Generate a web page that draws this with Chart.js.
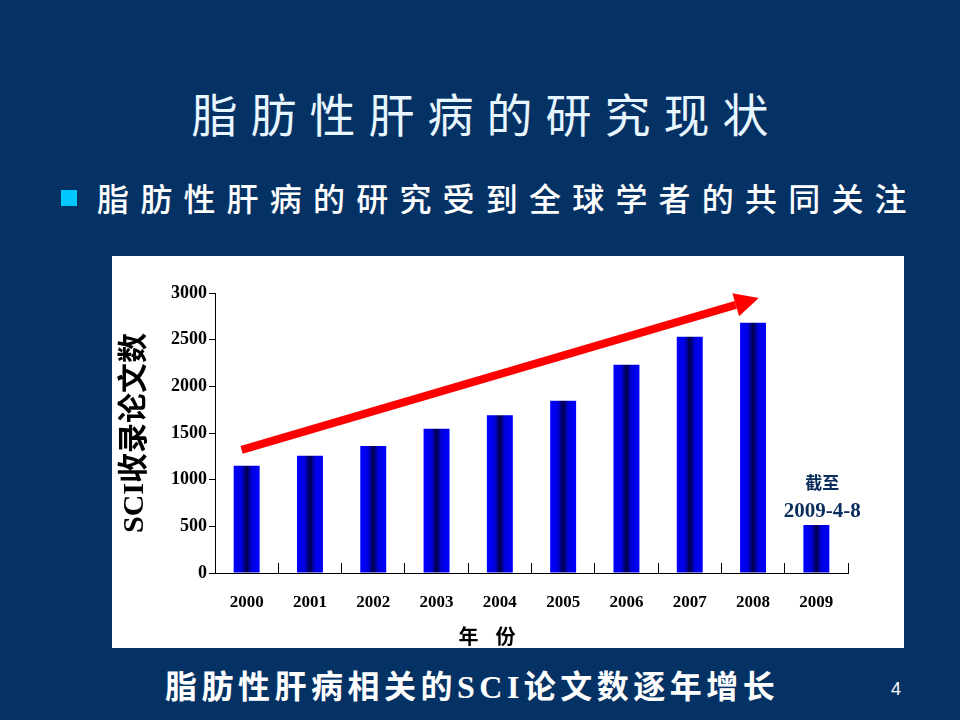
<!DOCTYPE html>
<html>
<head>
<meta charset="utf-8">
<script src="https://cdn.jsdelivr.net/npm/chart.js@4/dist/chart.umd.min.js"></script>
<style>
  html, body { margin: 0; padding: 0; }
  body {
    width: 960px; height: 720px; overflow: hidden; position: relative;
    background: #053265;
    font-family: "Noto Sans CJK SC", sans-serif;
  }
  .title {
    position: absolute; left: 0; width: 960px; top: 80px;
    text-align: center; color: #e8f6ff;
    font-size: 46px; line-height: 64px; letter-spacing: 13px; text-indent: 13px;
  }
  .bullet {
    position: absolute; left: 61px; top: 190px; width: 16px; height: 16px;
    background: #00c8ff;
  }
  .subtitle {
    position: absolute; left: 97px; top: 175px; color: #ffffff;
    font-size: 32px; line-height: 44px; letter-spacing: 11.2px; font-weight: 500;
  }
  .panel {
    position: absolute; left: 112px; top: 256px; width: 792px; height: 392px;
    background: #ffffff;
  }
  .xtitle {
    position: absolute; left: 490px; top: 635px; transform: translate(-50%, -50%);
    color: #000; font-size: 20px; font-weight: 700; letter-spacing: 6px;
    font-family: "Liberation Serif", "Noto Sans CJK SC", serif;
  }
  .caption {
    position: absolute; left: 165px; top: 666px; color: #ffffff;
    font-size: 32px; line-height: 42px; letter-spacing: 4.5px; font-weight: 700;
    font-family: "Liberation Serif", "Noto Sans CJK SC", serif;
  }
  .page {
    position: absolute; left: 891px; top: 679px; color: #ffffff;
    font-size: 18px; font-family: "Liberation Sans", Arial, sans-serif;
  }
</style>
</head>
<body>
<div class="title">脂肪性肝病的研究现状</div>
<div class="bullet"></div>
<div class="subtitle">脂肪性肝病的研究受到全球学者的共同关注</div>
<div class="panel"><canvas id="sciChart" width="792" height="392"></canvas></div>
<div class="xtitle">年 份</div>
<div class="caption">脂肪性肝病相关的SCI论文数逐年增长</div>
<div class="page">4</div>

<script>
// 年份与SCI收录论文数
const years = ['2000', '2001', '2002', '2003', '2004', '2005', '2006', '2007', '2008', '2009'];
const paperCounts = [1150, 1255, 1360, 1545, 1690, 1845, 2230, 2530, 2680, 515];
const yTicks = [0, 500, 1000, 1500, 2000, 2500, 3000];

// 趋势箭头 (类别序号, 数值)
const arrowStart = [-0.08, 1320];
const arrowEnd = [8.09, 2946];

// 2009 年柱上方的说明
const noteLines = ['截至', '2009-4-8'];

const serif = '"Liberation Serif", "Noto Sans CJK SC", serif';

// 柱子横向渐变：两侧亮蓝，中间深蓝
function barGradient(context) {
    const chart = context.chart;
    const xs = chart.scales.x;
    if (!xs || !chart.chartArea) return '#0000ff';
    const step = xs.getPixelForValue(1) - xs.getPixelForValue(0);
    const cx = xs.getPixelForValue(context.dataIndex);
    const half = step * 0.41 / 2;
    const g = chart.ctx.createLinearGradient(cx - half, 0, cx + half, 0);
    g.addColorStop(0, '#0000ff');
    g.addColorStop(0.3, '#0000e0');
    g.addColorStop(0.5, '#000048');
    g.addColorStop(0.7, '#0000e0');
    g.addColorStop(1, '#0000ff');
    return g;
}

// 红色箭头与说明文字
const overlayPlugin = {
    id: 'overlay',
    afterDatasetsDraw(chart) {
        const ctx = chart.ctx;
        const xs = chart.scales.x, ys = chart.scales.y;
        const step = xs.getPixelForValue(1) - xs.getPixelForValue(0);
        const px = i => xs.getPixelForValue(0) + i * step;

        const x1 = px(arrowStart[0]), y1 = ys.getPixelForValue(arrowStart[1]);
        const x2 = px(arrowEnd[0]), y2 = ys.getPixelForValue(arrowEnd[1]);
        const ang = Math.atan2(y2 - y1, x2 - x1);
        const headLen = 24, headHalf = 12;
        const bx = x2 - headLen * Math.cos(ang), by = y2 - headLen * Math.sin(ang);

        ctx.save();
        ctx.strokeStyle = '#ff0000';
        ctx.fillStyle = '#ff0000';
        ctx.lineWidth = 8;
        ctx.beginPath();
        ctx.moveTo(x1, y1);
        ctx.lineTo(bx, by);
        ctx.stroke();
        ctx.beginPath();
        ctx.moveTo(x2, y2);
        ctx.lineTo(bx + headHalf * Math.sin(ang), by - headHalf * Math.cos(ang));
        ctx.lineTo(bx - headHalf * Math.sin(ang), by + headHalf * Math.cos(ang));
        ctx.closePath();
        ctx.fill();

        // 说明
        const last = years.length - 1;
        const nx = xs.getPixelForValue(last) + 6;
        const top = ys.getPixelForValue(paperCounts[last]);
        ctx.fillStyle = '#0b2d5c';
        ctx.textAlign = 'center';
        ctx.textBaseline = 'middle';
        ctx.font = 'bold 17px ' + serif;
        ctx.fillText(noteLines[0], nx, top - 40);
        ctx.font = 'bold 21px ' + serif;
        ctx.fillText(noteLines[1], nx, top - 13);
        ctx.restore();
    }
};

new Chart(document.getElementById('sciChart'), {
    type: 'bar',
    data: {
        labels: years,
        datasets: [{
            label: 'SCI收录论文数',
            data: paperCounts,
            backgroundColor: barGradient,
            borderWidth: 0,
            categoryPercentage: 1,
            barPercentage: 0.41
        }]
    },
    options: {
        responsive: false,
        animation: false,
        layout: { padding: { left: 0, top: 37, right: 56, bottom: 0 } },
        plugins: {
            legend: { display: false },
            tooltip: { enabled: false }
        },
        scales: {
            x: {
                afterFit: s => { s.height = 75; },
                grid: {
                    offset: true,
                    drawOnChartArea: false,
                    tickLength: -10,
                    color: '#000'
                },
                border: { color: '#000', width: 1 },
                ticks: {
                    color: '#000',
                    padding: 29,
                    font: { family: serif, size: 17, weight: 'bold' }
                }
            },
            y: {
                min: 0,
                max: 3000,
                afterFit: s => { s.width = 103; },
                afterBuildTicks: s => { s.ticks = yTicks.map(v => ({ value: v })); },
                grid: {
                    drawOnChartArea: false,
                    tickLength: 6,
                    color: '#000'
                },
                border: { color: '#000', width: 1 },
                ticks: {
                    color: '#000',
                    padding: 2,
                    callback: v => String(v),
                    font: { family: serif, size: 18, weight: 'bold' }
                },
                title: {
                    display: true,
                    text: 'SCI收录论文数',
                    color: '#000',
                    padding: { top: 5, bottom: 0 },
                    font: { family: serif, size: 30, weight: 'bold' }
                }
            }
        }
    },
    plugins: [overlayPlugin]
});
</script>
</body>
</html>
